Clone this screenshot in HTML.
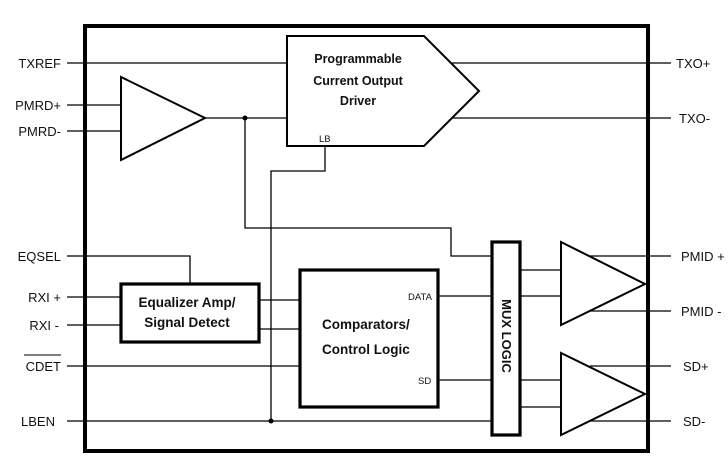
<!DOCTYPE html>
<html><head><meta charset="utf-8"><style>
html,body{margin:0;padding:0;background:#fff}
svg{display:block}
text{font-family:"Liberation Sans",Arial,sans-serif;fill:#111}
.b{font-weight:bold;font-size:12.5px}
.l{font-size:13px}
</style></head><body>
<svg width="728" height="466" viewBox="0 0 728 466" xmlns="http://www.w3.org/2000/svg">
<g fill="none" stroke="#000" stroke-width="1.3">
<!-- left wires -->
<line x1="67" y1="63" x2="287" y2="63"/>
<line x1="67" y1="105" x2="121" y2="105"/>
<line x1="67" y1="131" x2="121" y2="131"/>
<line x1="205" y1="118" x2="287" y2="118"/>
<polyline points="245,118 245,228 451,228 451,256 492,256"/>
<polyline points="325,146 325,171 271,171 271,421"/>
<polyline points="67,256 190,256 190,284"/>
<line x1="67" y1="297" x2="121" y2="297"/>
<line x1="67" y1="325" x2="121" y2="325"/>
<line x1="259" y1="300" x2="300" y2="300"/>
<line x1="259" y1="329" x2="300" y2="329"/>
<line x1="67" y1="366" x2="300" y2="366"/>
<line x1="67" y1="421" x2="492" y2="421"/>
<line x1="438" y1="296" x2="492" y2="296"/>
<line x1="438" y1="380" x2="492" y2="380"/>
<line x1="520" y1="270" x2="561" y2="270"/>
<line x1="520" y1="296" x2="561" y2="296"/>
<line x1="520" y1="380" x2="561" y2="380"/>
<line x1="520" y1="407" x2="561" y2="407"/>
<!-- right wires -->
<line x1="452" y1="63" x2="671" y2="63"/>
<line x1="453" y1="118" x2="671" y2="118"/>
<line x1="590" y1="256" x2="671" y2="256"/>
<line x1="590" y1="311" x2="671" y2="311"/>
<line x1="590" y1="366" x2="671" y2="366"/>
<line x1="590" y1="421" x2="671" y2="421"/>
</g>
<rect x="85" y="26" width="563" height="425" fill="none" stroke="#000" stroke-width="4"/>
<g fill="none" stroke="#000" stroke-width="2">
<polygon points="287,36 424,36 479,91 424,146 287,146" fill="#fff"/>
<polygon points="121,77 121,160 205,118"/>
<polygon points="561,242 561,325 645,284"/>
<polygon points="561,353 561,435 645,394"/>
</g>
<g fill="none" stroke="#000" stroke-width="3.2">
<rect x="121" y="284" width="138" height="58"/>
<rect x="300" y="270" width="138" height="137"/>
<rect x="492" y="242" width="28" height="193"/>
</g>
<circle cx="245" cy="118" r="2.5" fill="#000"/>
<circle cx="271" cy="421" r="2.5" fill="#000"/>
<g class="b">
<text x="358" y="63" text-anchor="middle">Programmable</text>
<text x="358" y="85" text-anchor="middle">Current Output</text>
<text x="358" y="105" text-anchor="middle">Driver</text>
<text x="187" y="307" text-anchor="middle" font-size="13.5">Equalizer Amp/</text>
<text x="187" y="327" text-anchor="middle" font-size="13.5">Signal Detect</text>
<text x="322" y="329" font-size="13.5">Comparators/</text>
<text x="322" y="354" font-size="13.5">Control Logic</text>
<text transform="translate(502,336) rotate(90)" text-anchor="middle" font-size="13">MUX LOGIC</text>
</g>
<g font-size="9.5">
<text x="319" y="142">LB</text>
<text x="408" y="300">DATA</text>
<text x="418" y="384">SD</text>
</g>
<g class="l" text-anchor="end">
<text x="61" y="68">TXREF</text>
<text x="61" y="110">PMRD+</text>
<text x="61" y="136">PMRD-</text>
<text x="61" y="261">EQSEL</text>
<text x="61" y="302">RXI +</text>
<text x="59" y="330">RXI -</text>
<text x="61" y="371">CDET</text>
<text x="55" y="426">LBEN</text>
</g>
<line x1="24" y1="355" x2="61" y2="355" stroke="#000" stroke-width="1"/>
<g class="l">
<text x="676" y="68">TXO+</text>
<text x="679" y="123">TXO-</text>
<text x="681" y="261">PMID +</text>
<text x="681" y="316">PMID -</text>
<text x="683" y="371">SD+</text>
<text x="683" y="426">SD-</text>
</g>
</svg>
</body></html>
